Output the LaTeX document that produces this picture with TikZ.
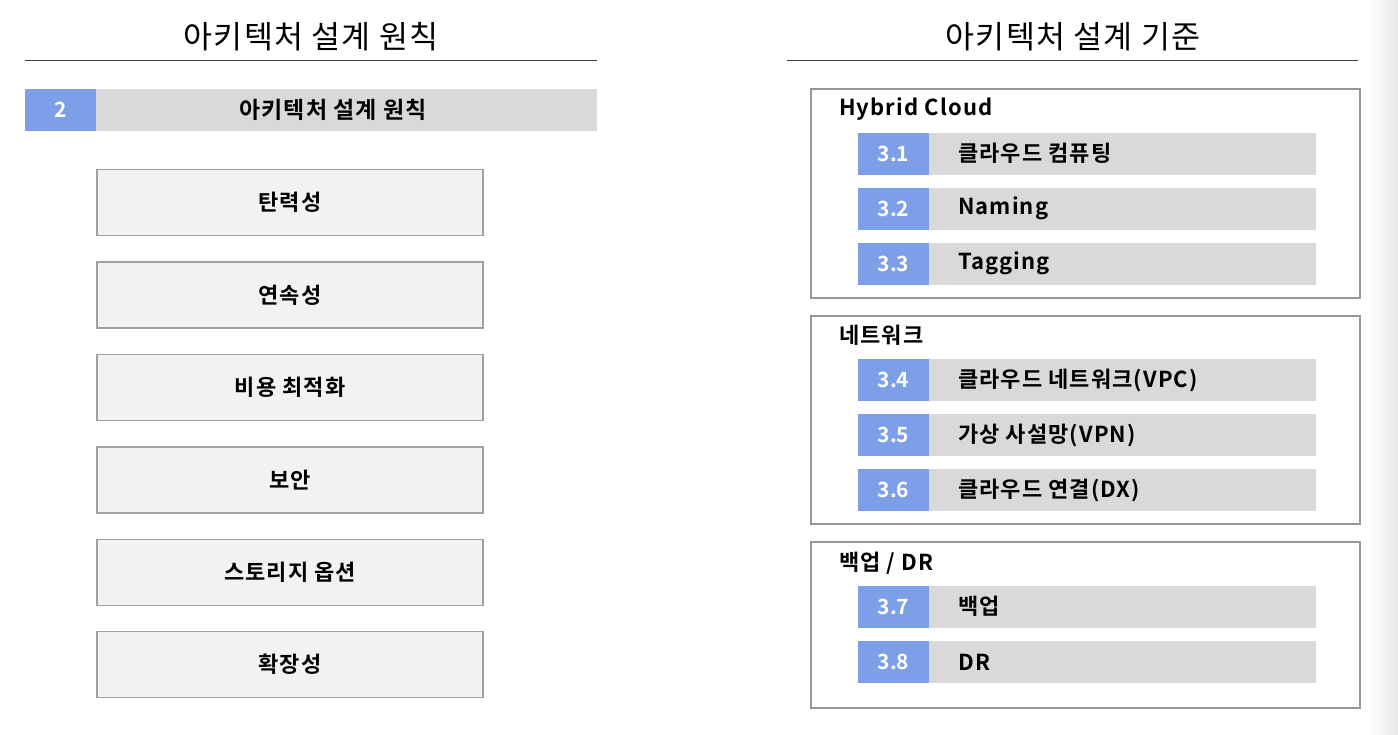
\documentclass[tikz,border=0pt]{standalone}
\usepackage{fontspec}
\setmainfont{Noto Sans CJK KR}[LetterSpace=4]
\newfontfamily\krbold{Noto Sans CJK KR Bold}[LetterSpace=5]
\newfontfamily\krnum{Noto Sans CJK KR Bold}
\usetikzlibrary{positioning}
\definecolor{numblue}{RGB}{124,159,232}
\definecolor{bargray}{RGB}{217,217,217}
\definecolor{boxfill}{RGB}{242,242,242}
\definecolor{boxline}{RGB}{160,160,160}
\definecolor{grpline}{RGB}{150,150,150}
\tikzset{
  titletxt/.style={font=\fontsize{31.5}{33}\selectfont, inner sep=0pt},
  rule/.style={draw=black!75, line width=1pt},
  numbox/.style={fill=numblue, draw=none, inner sep=0pt, minimum width=71pt, minimum height=42pt, text=white, font=\krnum\fontsize{21}{23}\selectfont},
  barbox/.style={fill=bargray, draw=none, inner sep=0pt, minimum height=42pt},
  itembox/.style={fill=boxfill, draw=boxline, line width=1.2pt, inner sep=0pt, minimum width=386pt, minimum height=66pt, font=\krbold\fontsize{22}{24}\selectfont},
  grpbox/.style={draw=grpline, line width=1.3pt, fill=white, inner sep=0pt, minimum width=549pt},
  grptitle/.style={anchor=west, inner sep=0pt, font=\krbold\fontsize{22}{24}\selectfont},
  itemtxt/.style={anchor=west, inner sep=0pt, font=\krbold\fontsize{22}{24}\selectfont},
}
\begin{document}
\begin{tikzpicture}[x=1pt,y=-1pt]
\useasboundingbox (0,0) rectangle (1398,734);
\fill[white] (0,0) rectangle (1398,734);
\shade[left color=white, right color=black!9] (1368,0) rectangle (1398,734);

% Left column
\node[titletxt] (ltitle) at (311,37) {아키텍처 설계 원칙};
\coordinate (lr1) at (25,60);
\coordinate (lr2) at (597,60);
\draw[rule] (lr1) -- (lr2);

\node[numbox] (n2) at (60.5,110) {2};
\node[barbox, minimum width=501pt] (bar2) at (346.5,110) {};
\node[inner sep=0pt, font=\krbold\fontsize{23}{25}\selectfont] (bar2t) at (333,110) {아키텍처 설계 원칙};

\node[itembox] (p1) at (290,202.5) {탄력성};
\node[itembox] (p2) at (290,295) {연속성};
\node[itembox] (p3) at (290,387.5) {비용 최적화};
\node[itembox] (p4) at (290,480) {보안};
\node[itembox] (p5) at (290,572.5) {스토리지 옵션};
\node[itembox] (p6) at (290,664.5) {확장성};

% Right column
\node[titletxt] (rtitle) at (1073,37) {아키텍처 설계 기준};
\coordinate (rr1) at (787,60);
\coordinate (rr2) at (1358,60);
\draw[rule] (rr1) -- (rr2);

\node[grpbox, minimum height=209pt] (g1) at (1085.5,193.5) {};
\node[grpbox, minimum height=208pt] (g2) at (1085.5,420) {};
\node[grpbox, minimum height=166pt] (g3) at (1085.5,625) {};

\node[grptitle] (g1t) at (839,109) {Hybrid Cloud};
\node[grptitle] (g2t) at (839,335) {네트워크};
\node[grptitle] (g3t) at (839,563) {백업 / DR};

\foreach \id/\y/\num/\txt in {
  a/153.5/3.1/클라우드 컴퓨팅,
  b/208.5/3.2/Naming,
  c/263.5/3.3/Tagging,
  d/380/3.4/클라우드 네트워크(VPC),
  e/435/3.5/가상 사설망(VPN),
  f/490/3.6/클라우드 연결(DX),
  g/606.5/3.7/백업,
  h/662/3.8/DR}{
  \node[barbox, minimum width=387pt] (bar\id) at (1122.5,\y) {};
  \node[numbox] (num\id) at (893.5,\y) {\num};
  \node[itemtxt] (txt\id) at (958,\y) {\txt};
}
\end{tikzpicture}
\end{document}
